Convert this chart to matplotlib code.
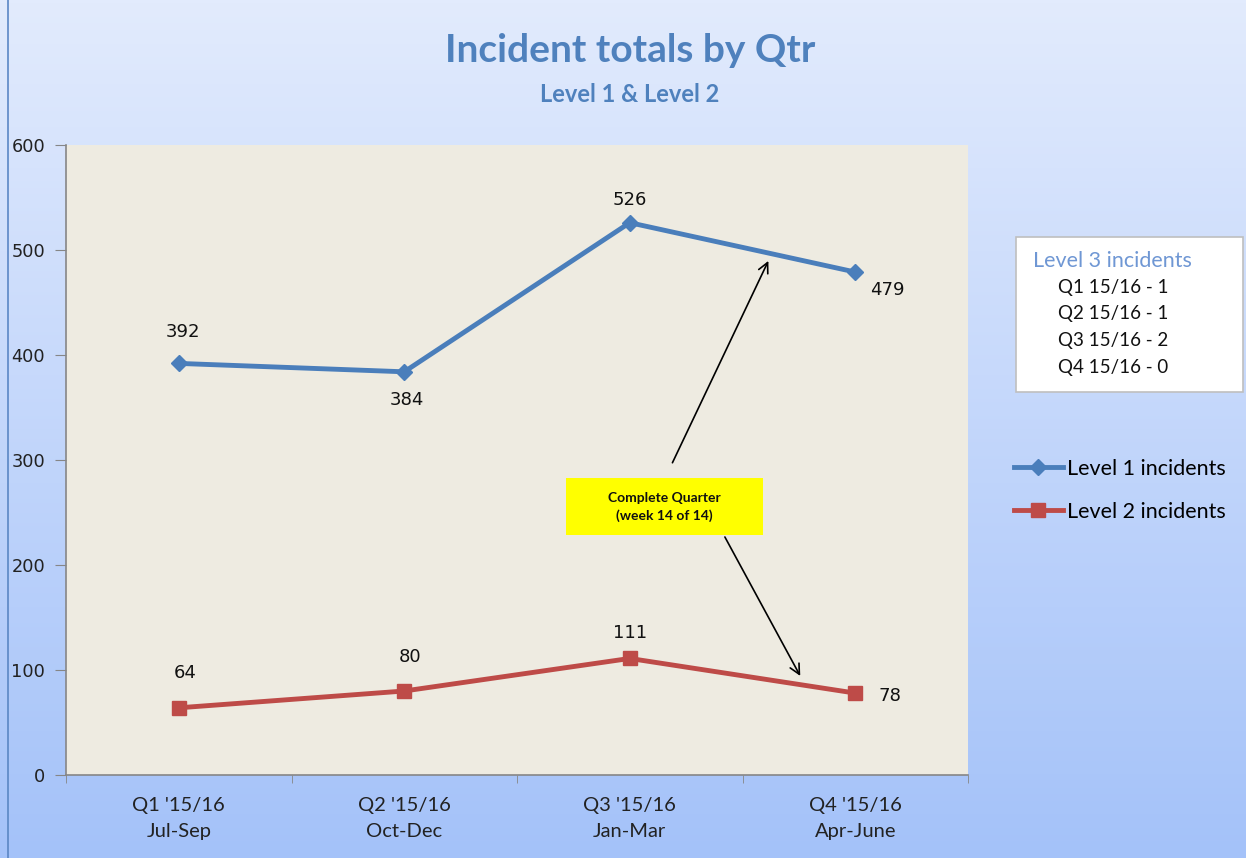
import numpy as np
import matplotlib
matplotlib.use("Agg")
import matplotlib.pyplot as plt
from matplotlib.patches import Rectangle

quarters = ["Q1 '15/16\nJul-Sep", "Q2 '15/16\nOct-Dec", "Q3 '15/16\nJan-Mar", "Q4 '15/16\nApr-June"]
level1 = [392, 384, 526, 479]
level2 = [64, 80, 111, 78]
level3_lines = ["Q1 15/16 - 1", "Q2 15/16 - 1", "Q3 15/16 - 2", "Q4 15/16 - 0"]

blue = "#4a7ebb"
red = "#be4b48"
title_col = "#4f81bd"

W, H = 1246, 858
fig = plt.figure(figsize=(W / 100, H / 100), dpi=100)

# gradient background
bg = fig.add_axes([0, 0, 1, 1], zorder=-10)
top = np.array([226, 235, 253]) / 255
bot = np.array([164, 194, 249]) / 255
t = np.linspace(0, 1, 256)[:, None]
grad = top[None, :] * (1 - t) + bot[None, :] * t
bg.imshow(grad[:, None, :].repeat(2, axis=1), aspect="auto", extent=[0, 1, 0, 1])
bg.set_xlim(0, 1); bg.set_ylim(0, 1)
bg.axis("off")
bg.plot([7.5 / W, 7.5 / W], [0, 1], color="#5b87c5", lw=1.2)

ax = fig.add_axes([66 / W, 1 - 775 / H, 902 / W, 630 / H])
ax.set_facecolor("#eeebe1")
x = np.arange(len(quarters))
ax.plot(x, level1, color=blue, lw=3.5, marker="D", ms=8, mfc=blue, mec=blue, label="Level 1 incidents")
ax.plot(x, level2, color=red, lw=3.5, marker="s", ms=10, mfc=red, mec=red, label="Level 2 incidents")
ax.set_xlim(-0.5, 3.5)
ax.set_ylim(0, 600)
ax.set_yticks(range(0, 601, 100))
ax.set_xticks(x)
ax.set_xticklabels(quarters, fontfamily="Lato", fontsize=14.5, color="#222222", linespacing=1.65)
ax.set_xticks(np.arange(-0.5, 3.6, 1), minor=True)
ax.tick_params(axis="x", which="major", length=0, pad=16)
ax.tick_params(axis="x", which="minor", length=6, color="#868686", direction="out")
ax.tick_params(axis="y", length=8, color="#868686", direction="out", pad=7, labelsize=12.8, labelcolor="#222222")
for lab in ax.get_yticklabels():
    lab.set_fontfamily("DejaVu Sans")
for s in ["top", "right"]:
    ax.spines[s].set_visible(False)
for s in ["left", "bottom"]:
    ax.spines[s].set_color("#868686")
    ax.spines[s].set_linewidth(1.2)

# data labels (offsets in pixels -> points)
lab_kw = dict(fontsize=13, color="#111111", fontfamily="DejaVu Sans", ha="center", va="center")
offs1 = [(4, 31), (3, -28), (0, 23), (32, -18)]
offs2 = [(6, 35), (6, 34), (0, 25), (35, -3)]
for xi, v, (dx, dy) in zip(x, level1, offs1):
    ax.annotate(str(v), (xi, v), xytext=(dx * 0.72, dy * 0.72), textcoords="offset points", **lab_kw)
for xi, v, (dx, dy) in zip(x, level2, offs2):
    ax.annotate(str(v), (xi, v), xytext=(dx * 0.72, dy * 0.72), textcoords="offset points", **lab_kw)

# arrows
ax.annotate("", xy=(2.62, 492), xytext=(2.184, 295),
            arrowprops=dict(arrowstyle="->", color="black", lw=1.2, mutation_scale=18))
ax.annotate("", xy=(2.762, 92), xytext=(2.416, 229),
            arrowprops=dict(arrowstyle="->", color="black", lw=1.2, mutation_scale=18))

# yellow box
fig.patches.append(Rectangle((566 / W, 1 - 535 / H), 197 / W, 57 / H, transform=fig.transFigure,
                             facecolor="#ffff00", edgecolor="none", zorder=5))
fig.text(664 / W, 1 - 507 / H, "Complete Quarter\n(week 14 of 14)", ha="center", va="center",
         fontsize=10, fontweight="bold", fontfamily="Lato", color="#111111", zorder=6, linespacing=1.6)

# titles
fig.text(630 / W, 1 - 51 / H, "Incident totals by Qtr", ha="center", va="center",
         fontsize=28, fontweight="bold", fontfamily="Lato", color=title_col)
fig.text(630 / W, 1 - 95 / H, "Level 1 & Level 2", ha="center", va="center",
         fontsize=17, fontweight="bold", fontfamily="Lato", color=title_col)

# Level 3 box
fig.patches.append(Rectangle((1016 / W, 1 - 392 / H), 227 / W, 155 / H, transform=fig.transFigure,
                             facecolor="white", edgecolor="#bfbfbf", lw=1.2, zorder=5))
fig.text(1033 / W, 1 - 261 / H, "Level 3 incidents", ha="left", va="center", fontsize=15.5,
         fontfamily="Lato", color="#6f97d4", zorder=6)
for i, line in enumerate(level3_lines):
    fig.text(1058 / W, 1 - (287 + i * 26.7) / H, line, ha="left", va="center", fontsize=13.5,
             fontfamily="Lato", color="#111111", zorder=6)

# legend
handles, labels = ax.get_legend_handles_labels()
leg = fig.legend(handles, labels, loc="upper left", bbox_to_anchor=(1005 / W, 1 - 450 / H),
                 frameon=False, prop=dict(family="Lato", size=15.5), handlelength=2.3,
                 labelspacing=1.08, handletextpad=0.2, borderaxespad=0)

fig.savefig("out.png", dpi=100)
